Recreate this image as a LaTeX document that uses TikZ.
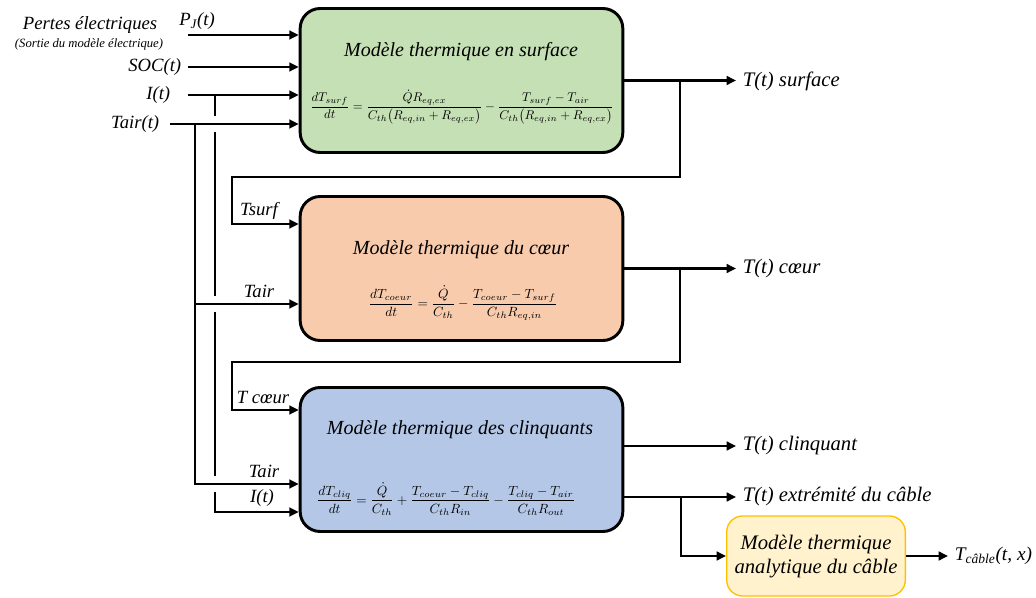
\documentclass[tikz,border=0pt]{standalone}
\usepackage{amsmath}
\usepackage{fontspec}
\setmainfont{Liberation Serif}
\usetikzlibrary{arrows.meta,positioning}
\definecolor{vertbox}{HTML}{C5E0B4}
\definecolor{orangebox}{HTML}{F8CBAD}
\definecolor{bleubox}{HTML}{B4C7E7}
\definecolor{jaunebox}{HTML}{FFF2CC}
\definecolor{jaunebord}{HTML}{FFC000}
\begin{document}
\begin{tikzpicture}[x=0.75pt,y=-0.75pt,>={Triangle[length=7pt,width=6.5pt]},line width=2.2pt,
 bloc/.style={draw,rounded corners=15pt,minimum width=242pt,minimum height=108pt},
 titre/.style={font=\fontsize{15}{18}\selectfont\itshape},
 lab/.style={font=\fontsize{14}{17}\selectfont\itshape,inner sep=4pt},
 sortie/.style={font=\fontsize{15.5}{18}\selectfont\itshape,inner sep=4pt},
 eq/.style={font=\fontsize{10}{12}\selectfont}]
\useasboundingbox (0,0) rectangle (1036,598);
% blocs
\node[bloc,fill=vertbox] (surf) at (461.5,80.5) {};
\node[bloc,fill=orangebox] (coeur) at (461.5,268.5) {};
\node[bloc,fill=bleubox] (cliq) at (461.5,459.5) {};
\node[draw=jaunebord,fill=jaunebox,line width=1pt,rounded corners=12pt,minimum width=134pt,minimum height=60pt] (cable) at (816,556) {};
\node[titre] (tisurf) at (461,52) {Modèle thermique en surface};
\node[eq] (eqsurf) at (462,107) {\scalebox{0.95}{$\displaystyle\frac{dT_{surf}}{dt}=\frac{\dot{Q}R_{eq,ex}}{C_{th}\bigl(R_{eq,in}+R_{eq,ex}\bigr)}-\frac{T_{surf}-T_{air}}{C_{th}\bigl(R_{eq,in}+R_{eq,ex}\bigr)}$}};
\node[titre] (ticoeur) at (461,250) {Modèle thermique du cœur};
\node[eq] (eqcoeur) at (463,303) {$\displaystyle\frac{dT_{coeur}}{dt}=\frac{\dot{Q}}{C_{th}}-\frac{T_{coeur}-T_{surf}}{C_{th}R_{eq,in}}$};
\node[titre] (ticliq) at (460,430) {Modèle thermique des clinquants};
\node[eq] (eqcliq) at (446,499) {$\displaystyle\frac{dT_{cliq}}{dt}=\frac{\dot{Q}}{C_{th}}+\frac{T_{coeur}-T_{cliq}}{C_{th}R_{in}}-\frac{T_{cliq}-T_{air}}{C_{th}R_{out}}$};
\node[sortie,align=center] (ticable) at (816,557) {Modèle thermique\\analytique du câble};
% entrees
\node[lab] (pertes) at (90,25) {Pertes électriques};
\node[font=\fontsize{9.5}{11}\selectfont\itshape] (sortie) at (89,44) {(Sortie du modèle électrique)};
\node[lab] (pj) at (197,21) {P\textsubscript{J}(t)};
\node[lab,anchor=east] (soc) at (188,67) {SOC(t)};
\node[lab,anchor=east] (itxt) at (177,95) {I(t)};
\node[lab,anchor=east] (tairtxt) at (166,124) {Tair(t)};
\coordinate (pjin) at (188,35);
\coordinate (iin) at (188,95);
\coordinate (tairin) at (170,124);
\draw[->] (pjin) -- (pjin -| surf.west);
\draw[->] (soc.east) -- (soc.east -| surf.west);
\draw[->] (iin) -- (iin -| surf.west);
\draw[->] (tairin) -- (tairin -| surf.west);
% bus Tair et I
\coordinate (tairtop) at (195,124);
\coordinate (tairmid) at (195,304);
\coordinate (ytair) at (0,484);
\draw[->] (tairtop) |- (cliq.west |- ytair);
\draw[->] (tairmid) -- (tairmid -| coeur.west);
\foreach \ya/\yb in {95/116,132/296,312/476}
 \draw (215,\ya) -- (215,\yb);
\coordinate (ibas) at (215,492);
\coordinate (yi) at (0,512);
\draw[->] (ibas) |- (cliq.west |- yi);
\node[lab] (ltsurf) at (259,211) {Tsurf};
\node[lab] (ltair1) at (259,291) {Tair};
\node[lab] (ltcoeur) at (263,398) {T cœur};
\node[lab] (ltair2) at (264,471) {Tair};
\node[lab] (li) at (262,498) {I(t)};
% sorties
\node[sortie,anchor=west] (osurf) at (736,81) {T(t) surface};
\node[sortie,anchor=west] (ocoeur) at (736,269) {T(t) cœur};
\node[sortie,anchor=west] (oclin) at (736,446) {T(t) clinquant};
\node[sortie,anchor=west] (oext) at (736,497) {T(t) extrémité du câble};
\node[sortie,anchor=west,font=\fontsize{14.5}{17}\selectfont\itshape] (ocable) at (948,556) {T\textsubscript{câble}(t, x)};
\draw[->] (surf.east) -- (surf.east -| osurf.west);
\draw[->] (coeur.east) -- (coeur.east -| ocoeur.west);
\draw[->] (oclin.west -| cliq.east) -- (oclin.west);
\draw[->] (oext.west -| cliq.east) -- (oext.west);
\draw[->] (cable.east) -- (cable.east -| ocable.west);
% retours
\coordinate (bsurf) at (680,80.5);
\coordinate (rsurf) at (232,177);
\coordinate (ysurf) at (0,224);
\draw[->] (bsurf) |- (rsurf) |- (coeur.west |- ysurf);
\coordinate (bcoeur) at (680,268.5);
\coordinate (rcoeur) at (232,362);
\coordinate (ycoeur) at (0,410);
\draw[->] (bcoeur) |- (rcoeur) |- (cliq.west |- ycoeur);
\coordinate (bext) at (681,497);
\draw[->] (bext) |- (cable.west);
\end{tikzpicture}
\end{document}
